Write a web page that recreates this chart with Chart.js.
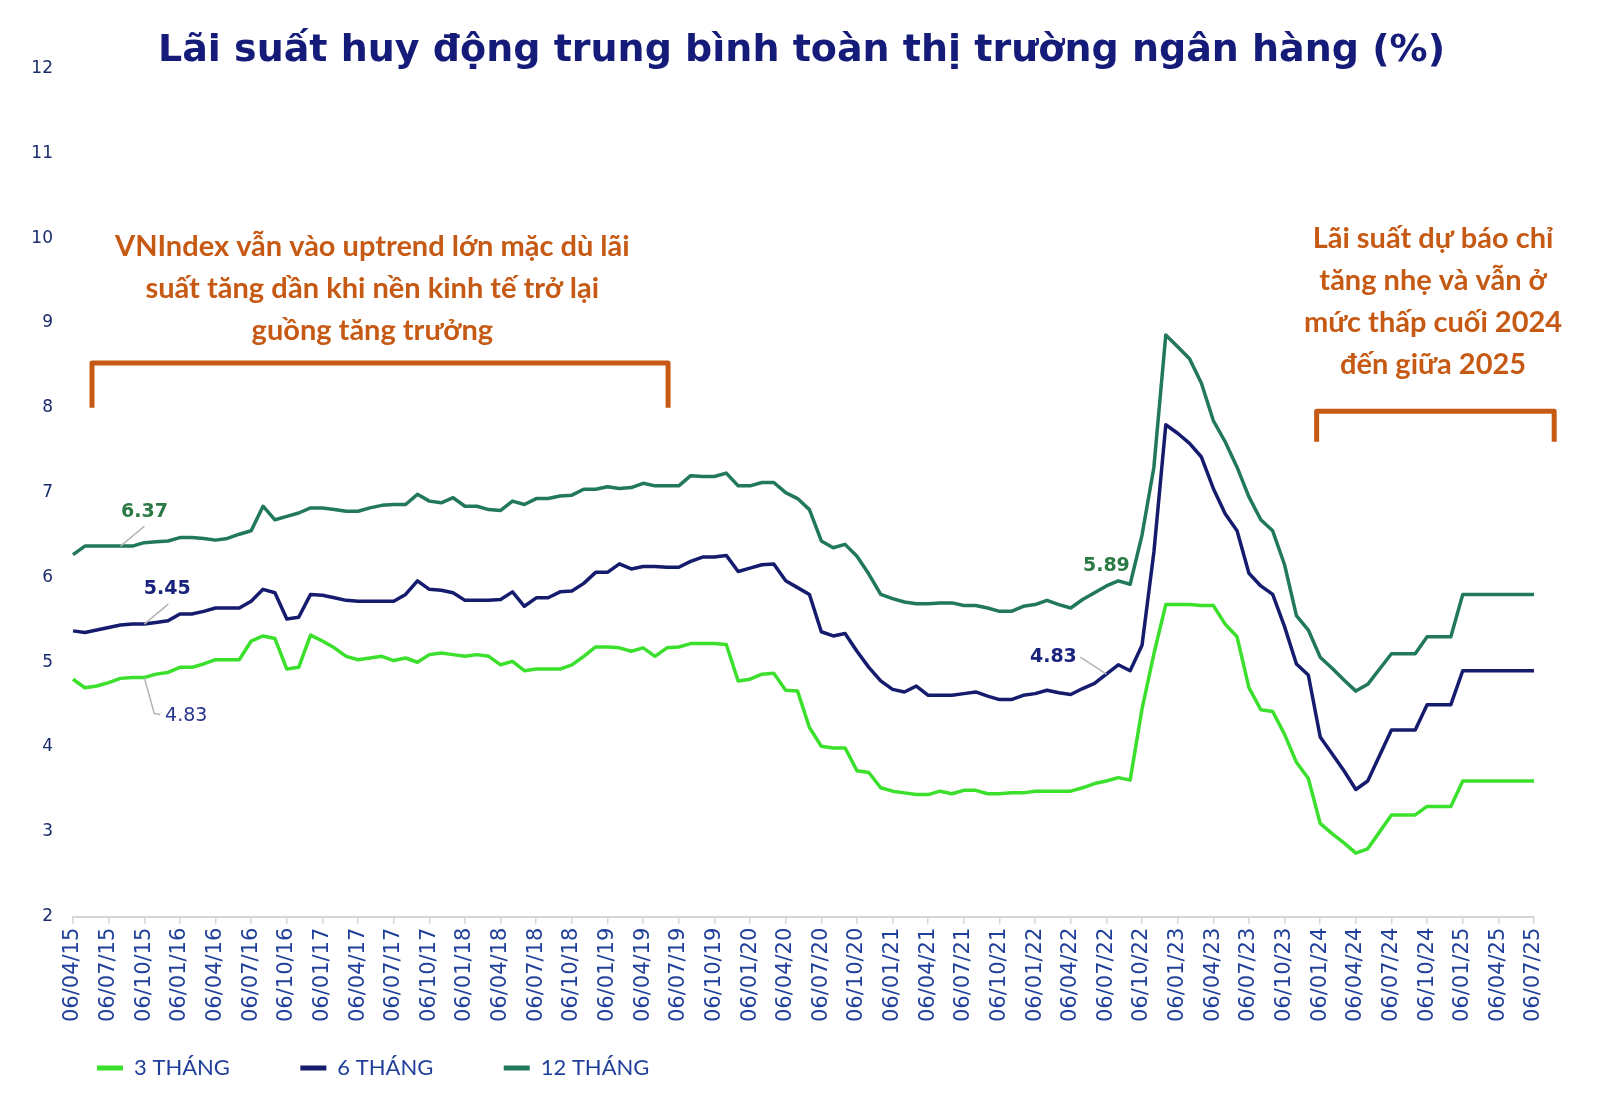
<!DOCTYPE html>
<html lang="vi">
<head>
<meta charset="utf-8">
<title>Lãi suất huy động trung bình</title>
<script src="https://cdn.jsdelivr.net/npm/chart.js@4.4.1/dist/chart.umd.min.js"></script>
<style>
  html, body { margin: 0; padding: 0; background: #ffffff; }
  .chart-box { position: relative; width: 1600px; height: 1100px; }
</style>
</head>
<body>
<div class="chart-box"><canvas id="rateChart"></canvas></div>
<script>
// monthly points, Apr 2015 .. Jul 2025 (label shown every quarter)
const months = [];
for (let i = 0; i < 124; i++) {
    const mm = ((3 + i) % 12) + 1;
    const yy = 15 + Math.floor((3 + i) / 12);
    months.push('06/' + String(mm).padStart(2, '0') + '/' + yy);
}

const seriesNames = ['3 THÁNG', '6 THÁNG', '12 THÁNG'];

const rate3 = [
    4.80, 4.70, 4.72, 4.76, 4.81, 4.82, 4.82, 4.86, 4.88, 4.94, 4.94, 4.98,
    5.03, 5.03, 5.03, 5.25, 5.31, 5.28, 4.92, 4.94, 5.32, 5.25, 5.17, 5.07,
    5.03, 5.05, 5.07, 5.02, 5.05, 5.00, 5.09, 5.11, 5.09, 5.07, 5.09, 5.07,
    4.97, 5.01, 4.90, 4.92, 4.92, 4.92, 4.97, 5.07, 5.18, 5.18, 5.17, 5.13,
    5.17, 5.07, 5.17, 5.18, 5.22, 5.22, 5.22, 5.21, 4.78, 4.80, 4.86, 4.87,
    4.67, 4.66, 4.23, 4.01, 3.99, 3.99, 3.72, 3.70, 3.52, 3.48, 3.46, 3.44,
    3.44, 3.48, 3.45, 3.49, 3.49, 3.45, 3.45, 3.46, 3.46, 3.48, 3.48, 3.48,
    3.48, 3.52, 3.57, 3.60, 3.64, 3.61, 4.45, 5.10, 5.68, 5.68, 5.68, 5.67,
    5.67, 5.45, 5.30, 4.70, 4.44, 4.42, 4.15, 3.82, 3.63, 3.10, 2.98, 2.87,
    2.75, 2.80, 3.00, 3.20, 3.20, 3.20, 3.30, 3.30, 3.30, 3.60, 3.60, 3.60,
    3.60, 3.60, 3.60, 3.60
];

const rate6 = [
    5.37, 5.35, 5.38, 5.41, 5.44, 5.45, 5.45, 5.47, 5.49, 5.57, 5.57, 5.60,
    5.64, 5.64, 5.64, 5.72, 5.86, 5.82, 5.51, 5.53, 5.80, 5.79, 5.76, 5.73,
    5.72, 5.72, 5.72, 5.72, 5.80, 5.96, 5.86, 5.85, 5.82, 5.73, 5.73, 5.73,
    5.74, 5.83, 5.66, 5.76, 5.76, 5.83, 5.84, 5.93, 6.06, 6.06, 6.16, 6.10,
    6.13, 6.13, 6.12, 6.12, 6.19, 6.24, 6.24, 6.26, 6.07, 6.11, 6.15, 6.16,
    5.96, 5.88, 5.80, 5.36, 5.31, 5.34, 5.13, 4.94, 4.78, 4.68, 4.65, 4.72,
    4.61, 4.61, 4.61, 4.63, 4.65, 4.60, 4.56, 4.56, 4.61, 4.63, 4.67, 4.64,
    4.62, 4.69, 4.75, 4.86, 4.97, 4.90, 5.20, 6.30, 7.80, 7.70, 7.58, 7.42,
    7.05, 6.75, 6.55, 6.05, 5.90, 5.80, 5.42, 4.98, 4.85, 4.12, 3.92, 3.72,
    3.50, 3.60, 3.90, 4.20, 4.20, 4.20, 4.50, 4.50, 4.50, 4.90, 4.90, 4.90,
    4.90, 4.90, 4.90, 4.90
];

const rate12 = [
    6.27, 6.37, 6.37, 6.37, 6.37, 6.37, 6.41, 6.42, 6.43, 6.47, 6.47, 6.46,
    6.44, 6.46, 6.51, 6.55, 6.84, 6.68, 6.72, 6.76, 6.82, 6.82, 6.80, 6.78,
    6.78, 6.82, 6.85, 6.86, 6.86, 6.98, 6.90, 6.88, 6.94, 6.84, 6.84, 6.80,
    6.79, 6.90, 6.86, 6.93, 6.93, 6.96, 6.97, 7.04, 7.04, 7.07, 7.05, 7.06,
    7.11, 7.08, 7.08, 7.08, 7.20, 7.19, 7.19, 7.23, 7.08, 7.08, 7.12, 7.12,
    7.00, 6.93, 6.80, 6.43, 6.35, 6.39, 6.25, 6.04, 5.80, 5.75, 5.71, 5.69,
    5.69, 5.70, 5.70, 5.67, 5.67, 5.64, 5.60, 5.60, 5.66, 5.68, 5.73, 5.68,
    5.64, 5.74, 5.82, 5.90, 5.96, 5.92, 6.50, 7.30, 8.86, 8.72, 8.58, 8.29,
    7.85, 7.60, 7.30, 6.95, 6.68, 6.55, 6.15, 5.55, 5.38, 5.06, 4.93, 4.79,
    4.66, 4.74, 4.92, 5.10, 5.10, 5.10, 5.30, 5.30, 5.30, 5.80, 5.80, 5.80,
    5.80, 5.80, 5.80, 5.80
];

const yTicks = [2, 3, 4, 5, 6, 7, 8, 9, 10, 11, 12];

const ORANGE = '#c65a14';
const GREEN3 = '#3be02c';
const NAVY6 = '#151c6e';
const TEAL12 = '#21785a';
const AXIS_TEXT = '#1f3f99';

// orange callouts (anchored on the scales: x = month index, y = rate)
const notes = [
    { at: 25.2, top: 9.90, lines: ['VNIndex vẫn vào uptrend lớn mặc dù lãi', 'suất tăng dần khi nền kinh tế trở lại', 'guồng tăng trưởng'] },
    { at: 114.5, top: 10.0, lines: ['Lãi suất dự báo chỉ', 'tăng nhẹ và vẫn ở', 'mức thấp cuối 2024', 'đến giữa 2025'] }
];
const brackets = [
    { from: 1.6, to: 50.1, top: 8.53, bottom: 8.0 },
    { from: 104.7, to: 124.7, top: 7.96, bottom: 7.6 }
];

// value labels on the lines
const pointNotes = [
    { ds: 2, i: 4, text: '6.37', color: '#2b7a46', bold: true, leader: [[0, 0], [24, -20]], tx: 24, ty: -34 },
    { ds: 1, i: 6, text: '5.45', color: '#1a237e', bold: true, leader: [[0, 0], [24, -20]], tx: 23, ty: -35 },
    { ds: 0, i: 6, text: '4.83', color: '#2a3590', bold: false, leader: [[0, 0], [10, 36], [16, 37]], tx: 42, ty: 39 },
    { ds: 2, i: 87, text: '5.89', color: '#2b7a46', bold: true, leader: null, tx: 0, ty: -20 },
    { ds: 1, i: 87, text: '4.83', color: '#1a237e', bold: true, leader: [[0, 0], [-26, -17]], tx: -53, ty: -17 }
];

const notesPlugin = {
    id: 'notes',
    afterLayout(chart) {
        // legend starts under the plot, title centred on the page
        if (chart.legend) {
            chart.legend.left += 41;
            chart.legend.right += 41;
        }
        if (chart.titleBlock) {
            chart.titleBlock.left += 22;
            chart.titleBlock.right += 22;
        }
    },
    afterDatasetsDraw(chart) {
        const { ctx } = chart;
        const x = chart.scales.x, y = chart.scales.y;
        ctx.save();

        ctx.strokeStyle = ORANGE;
        ctx.lineWidth = 5;
        ctx.lineJoin = 'round';
        brackets.forEach(b => {
            const x0 = x.getPixelForValue(b.from), x1 = x.getPixelForValue(b.to);
            const yt = y.getPixelForValue(b.top), yb = y.getPixelForValue(b.bottom);
            ctx.beginPath();
            ctx.moveTo(x0, yb);
            ctx.lineTo(x0, yt);
            ctx.lineTo(x1, yt);
            ctx.lineTo(x1, yb);
            ctx.stroke();
        });

        ctx.fillStyle = ORANGE;
        ctx.font = "bold 29px Lato, 'Open Sans', sans-serif";
        ctx.textAlign = 'center';
        ctx.textBaseline = 'middle';
        notes.forEach(n => {
            const cx = x.getPixelForValue(n.at);
            const cy = y.getPixelForValue(n.top);
            n.lines.forEach((line, k) => ctx.fillText(line, cx, cy + k * 42));
        });

        pointNotes.forEach(p => {
            const meta = chart.getDatasetMeta(p.ds);
            const pt = meta.data[p.i];
            if (!pt) return;
            if (p.leader) {
                ctx.strokeStyle = '#b5b5b5';
                ctx.lineWidth = 1.5;
                ctx.beginPath();
                p.leader.forEach(([dx, dy], k) => {
                    if (k === 0) ctx.moveTo(pt.x + dx, pt.y + dy);
                    else ctx.lineTo(pt.x + dx, pt.y + dy);
                });
                ctx.stroke();
            }
            ctx.fillStyle = p.color;
            ctx.font = (p.bold ? 'bold ' : '') + "19px 'DejaVu Sans', Verdana, sans-serif";
            ctx.fillText(p.text, pt.x + p.tx, pt.y + p.ty);
        });

        ctx.restore();
    }
};

const ctx = document.getElementById('rateChart');
new Chart(ctx, {
    type: 'line',
    data: {
        labels: months,
        datasets: [
            { label: seriesNames[0], data: rate3, borderColor: GREEN3, backgroundColor: GREEN3 },
            { label: seriesNames[1], data: rate6, borderColor: NAVY6, backgroundColor: NAVY6 },
            { label: seriesNames[2], data: rate12, borderColor: TEAL12, backgroundColor: TEAL12 }
        ]
    },
    options: {
        responsive: true,
        maintainAspectRatio: false,
        animation: false,
        layout: {
            padding: { left: 25, right: 66, top: 0, bottom: 11 }
        },
        elements: {
            line: { borderWidth: 3.5, tension: 0, borderJoinStyle: 'round', fill: false },
            point: { radius: 0, hoverRadius: 0 }
        },
        plugins: {
            title: {
                display: true,
                text: 'Lãi suất huy động trung bình toàn thị trường ngân hàng (%)',
                color: '#151b78',
                font: { family: "'DejaVu Sans', Verdana, sans-serif", size: 38, weight: 'bold' },
                padding: { top: 28, bottom: -5 }
            },
            legend: {
                position: 'bottom',
                align: 'start',
                labels: {
                    color: AXIS_TEXT,
                    font: { family: "Lato, 'Open Sans', sans-serif", size: 22 },
                    boxWidth: 26,
                    boxHeight: 5,
                    padding: 31,
                    // widen each entry so the three sit about 200px apart
                    generateLabels: (chart) => Chart.defaults.plugins.legend.labels.generateLabels(chart)
                        .map(item => Object.assign(item, { lineWidth: 0, text: item.text + '\u00a0'.repeat(7) }))
                }
            },
            tooltip: { enabled: false }
        },
        scales: {
            x: {
                type: 'category',
                offset: false,
                grid: {
                    display: true,
                    drawOnChartArea: false,
                    drawTicks: true,
                    tickLength: 7,
                    color: '#d6d6d6',
                    lineWidth: 1.5
                },
                border: { display: true, color: '#d6d6d6', width: 2 },
                ticks: {
                    autoSkip: false,
                    maxRotation: 90,
                    minRotation: 90,
                    padding: 4,
                    color: AXIS_TEXT,
                    font: { family: "'DejaVu Sans', Verdana, sans-serif", size: 21 },
                    callback: (value, index) => (index % 3 === 0 ? months[index] : null)
                }
            },
            y: {
                min: 2,
                max: 12,
                afterFit: (scale) => { scale.width = 48; },
                afterBuildTicks: (scale) => { scale.ticks = yTicks.map(v => ({ value: v })); },
                grid: { display: false },
                border: { display: false },
                ticks: {
                    padding: 12,
                    color: '#1a2b6d',
                    font: { family: "'DejaVu Sans', Verdana, sans-serif", size: 17 }
                }
            }
        }
    },
    plugins: [notesPlugin]
});
</script>
</body>
</html>
